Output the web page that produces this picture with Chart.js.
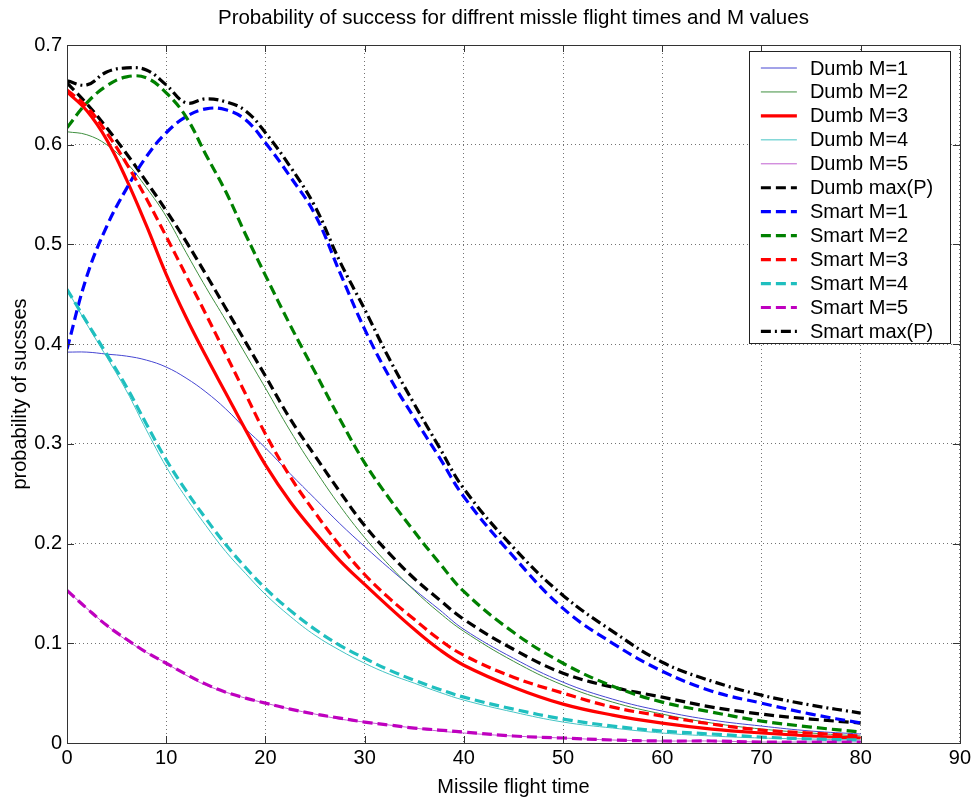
<!DOCTYPE html>
<html>
<head>
<meta charset="utf-8">
<script src="https://cdn.jsdelivr.net/npm/chart.js@4"></script>
<style>
  html, body { margin: 0; padding: 0; background: #fff; }
  #wrap { position: relative; width: 974px; height: 800px; }
</style>
</head>
<body>
<div id="wrap"><canvas id="chart"></canvas></div>
<script>
// missile flight time samples (shared by every series)
const flightTimes = [0, 2, 4, 6, 8, 10, 12, 14, 16, 18, 20, 22.5, 25, 27.5, 30, 32.5, 35, 37.5, 40, 45, 50, 55, 60, 65, 70, 75, 80]

// probability of success
const dumbM1 = [0.392, 0.392, 0.390, 0.388, 0.384, 0.377, 0.366, 0.352, 0.335, 0.315, 0.296, 0.270, 0.245, 0.220, 0.197, 0.175, 0.154, 0.134, 0.114, 0.085, 0.061, 0.044, 0.032, 0.023, 0.017, 0.012, 0.009]
const dumbM2 = [0.613, 0.610, 0.600, 0.582, 0.557, 0.528, 0.492, 0.457, 0.424, 0.390, 0.356, 0.313, 0.274, 0.238, 0.206, 0.178, 0.153, 0.131, 0.112, 0.082, 0.058, 0.041, 0.029, 0.020, 0.014, 0.010, 0.007]
const dumbM3 = [0.653, 0.634, 0.605, 0.565, 0.519, 0.470, 0.427, 0.388, 0.351, 0.314, 0.279, 0.242, 0.211, 0.183, 0.159, 0.136, 0.114, 0.094, 0.078, 0.056, 0.039, 0.028, 0.020, 0.014, 0.010, 0.007, 0.005]
const dumbM4 = [0.455, 0.420, 0.387, 0.353, 0.314, 0.277, 0.246, 0.218, 0.192, 0.170, 0.149, 0.127, 0.108, 0.093, 0.080, 0.069, 0.060, 0.051, 0.043, 0.031, 0.021, 0.015, 0.010, 0.007, 0.005, 0.004, 0.003]
const dumbM5 = [0.153, 0.135, 0.118, 0.103, 0.091, 0.080, 0.068, 0.058, 0.051, 0.045, 0.040, 0.034, 0.029, 0.024, 0.021, 0.018, 0.015, 0.012, 0.010, 0.007, 0.005, 0.003, 0.002, 0.002, 0.001, 0.001, 0.001]
const dumbMax = [0.662, 0.641, 0.617, 0.591, 0.563, 0.534, 0.503, 0.470, 0.436, 0.402, 0.368, 0.325, 0.288, 0.252, 0.218, 0.190, 0.165, 0.144, 0.124, 0.094, 0.070, 0.056, 0.046, 0.036, 0.029, 0.024, 0.020]
const smartM1 = [0.395, 0.468, 0.518, 0.556, 0.588, 0.612, 0.628, 0.636, 0.635, 0.625, 0.602, 0.568, 0.530, 0.472, 0.415, 0.367, 0.326, 0.287, 0.247, 0.187, 0.135, 0.100, 0.072, 0.052, 0.040, 0.029, 0.020]
const smartM2 = [0.617, 0.642, 0.659, 0.668, 0.667, 0.652, 0.628, 0.590, 0.553, 0.510, 0.469, 0.419, 0.372, 0.325, 0.281, 0.245, 0.212, 0.181, 0.152, 0.111, 0.080, 0.057, 0.041, 0.031, 0.022, 0.016, 0.011]
const smartM3 = [0.655, 0.638, 0.612, 0.581, 0.546, 0.508, 0.469, 0.430, 0.390, 0.350, 0.310, 0.267, 0.231, 0.198, 0.169, 0.145, 0.124, 0.104, 0.088, 0.066, 0.050, 0.036, 0.027, 0.019, 0.013, 0.010, 0.007]
const smartM4 = [0.455, 0.422, 0.390, 0.357, 0.320, 0.284, 0.253, 0.225, 0.199, 0.176, 0.155, 0.133, 0.114, 0.098, 0.085, 0.073, 0.063, 0.054, 0.046, 0.034, 0.024, 0.017, 0.012, 0.009, 0.006, 0.004, 0.003]
const smartM5 = [0.153, 0.135, 0.118, 0.104, 0.091, 0.080, 0.069, 0.059, 0.051, 0.045, 0.040, 0.034, 0.029, 0.025, 0.021, 0.018, 0.015, 0.013, 0.011, 0.007, 0.005, 0.003, 0.002, 0.002, 0.001, 0.001, 0.001]
const smartMax = [0.664, 0.660, 0.673, 0.677, 0.675, 0.660, 0.642, 0.646, 0.643, 0.634, 0.612, 0.578, 0.538, 0.483, 0.435, 0.385, 0.340, 0.297, 0.255, 0.196, 0.148, 0.112, 0.081, 0.062, 0.048, 0.038, 0.030]

const xTicks = [0, 10, 20, 30, 40, 50, 60, 70, 80, 90]
const yTicks = [0, 0.1, 0.2, 0.3, 0.4, 0.5, 0.6, 0.7]

const TITLE = 'Probability of success for diffrent missle flight times and M values'
const FONT = "'Liberation Sans', Arial, sans-serif"
const DASH = [10, 5]
const DASH_DOT = [10, 4, 2, 4]

const series = [
  { label: 'Dumb M=1', values: dumbM1, color: '#4646d2', width: 1, dash: [] },
  { label: 'Dumb M=2', values: dumbM2, color: '#3f8f3f', width: 1, dash: [] },
  { label: 'Dumb M=3', values: dumbM3, color: '#ff0000', width: 3.2, dash: [] },
  { label: 'Dumb M=4', values: dumbM4, color: '#45c4c4', width: 1, dash: [] },
  { label: 'Dumb M=5', values: dumbM5, color: '#c060d0', width: 1, dash: [] },
  { label: 'Dumb max(P)', values: dumbMax, color: '#000000', width: 3.2, dash: DASH },
  { label: 'Smart M=1', values: smartM1, color: '#0000ff', width: 3.2, dash: DASH },
  { label: 'Smart M=2', values: smartM2, color: '#008000', width: 3.2, dash: DASH },
  { label: 'Smart M=3', values: smartM3, color: '#ff0000', width: 3.2, dash: DASH },
  { label: 'Smart M=4', values: smartM4, color: '#1fbfbf', width: 3.2, dash: DASH },
  { label: 'Smart M=5', values: smartM5, color: '#bf00bf', width: 3.2, dash: DASH },
  { label: 'Smart max(P)', values: smartMax, color: '#000000', width: 3.2, dash: DASH_DOT }
]

const datasets = series.map((s, i) => ({
  label: s.label,
  data: s.values.map((v, j) => ({ x: flightTimes[j], y: v })),
  borderColor: s.color,
  backgroundColor: s.color,
  borderWidth: s.width,
  borderDash: s.dash,
  pointRadius: 0,
  fill: false,
  tension: 0.4,
  order: series.length - i // later series drawn on top, like matlab
}))

// box around the plot + inward ticks on all four sides, title centred over the axes
const frameTicks = {
  id: 'frameTicks',
  afterDatasetsDraw(chart) {
    const { ctx, chartArea: a, scales } = chart
    ctx.save()
    ctx.setLineDash([])
    ctx.strokeStyle = '#333'
    ctx.lineWidth = 1
    ctx.beginPath()
    xTicks.forEach(t => {
      const px = Math.round(scales.x.getPixelForValue(t)) + 0.5
      ctx.moveTo(px, a.bottom); ctx.lineTo(px, a.bottom - 7)
      ctx.moveTo(px, a.top); ctx.lineTo(px, a.top + 7)
    })
    yTicks.forEach(t => {
      const py = Math.round(scales.y.getPixelForValue(t)) + 0.5
      ctx.moveTo(a.left, py); ctx.lineTo(a.left + 7, py)
      ctx.moveTo(a.right, py); ctx.lineTo(a.right - 7, py)
    })
    ctx.stroke()
    ctx.strokeRect(Math.round(a.left) + 0.5, Math.round(a.top) + 0.5, Math.round(a.right - a.left), Math.round(a.bottom - a.top))

    ctx.fillStyle = '#000'
    ctx.font = '20.5px ' + FONT
    ctx.textAlign = 'center'
    ctx.textBaseline = 'middle'
    ctx.fillText(TITLE, (a.left + a.right) / 2, 18)
    ctx.restore()
  }
}

// matlab style legend box in the top right corner
const boxLegend = {
  id: 'boxLegend',
  afterDraw(chart) {
    const { ctx, chartArea: a } = chart
    const rowH = 23.95
    const w = 201
    const h = 292
    const left = a.right - 10 - w
    const top = a.top + 6
    ctx.save()
    ctx.setLineDash([])
    ctx.fillStyle = '#fff'
    ctx.fillRect(left, top, w, h)
    ctx.strokeStyle = '#222'
    ctx.lineWidth = 1
    ctx.strokeRect(Math.round(left) + 0.5, Math.round(top) + 0.5, w, h)
    ctx.font = '20px ' + FONT
    ctx.textBaseline = 'middle'
    chart.data.datasets.forEach((ds, i) => {
      const y = top + 17 + i * rowH
      ctx.beginPath()
      ctx.setLineDash(ds.borderDash)
      ctx.strokeStyle = ds.borderColor
      ctx.lineWidth = ds.borderWidth
      ctx.moveTo(left + 12, y)
      ctx.lineTo(left + 48, y)
      ctx.stroke()
      ctx.setLineDash([])
      ctx.fillStyle = '#000'
      ctx.fillText(ds.label, left + 61, y + 1)
    })
    ctx.restore()
  }
}

new Chart(document.getElementById('chart'), {
  type: 'line',
  data: { datasets },
  options: {
    responsive: true,
    maintainAspectRatio: false,
    animation: false,
    layout: { padding: { left: 0, right: 14, top: 45, bottom: 0 } },
    plugins: {
      legend: { display: false },
      tooltip: { enabled: false },
      title: { display: false }
    },
    scales: {
      x: {
        type: 'linear',
        min: 0,
        max: 90,
        afterBuildTicks: scale => { scale.ticks = xTicks.map(v => ({ value: v })) },
        afterFit: scale => { scale.height = 57 },
        ticks: { color: '#000', font: { family: FONT, size: 20 }, padding: 3 },
        grid: { color: 'rgba(0,0,0,0.55)', drawTicks: false },
        border: { display: false, dash: [1, 3] },
        title: {
          display: true,
          text: 'Missile flight time',
          color: '#000',
          font: { family: FONT, size: 20 },
          padding: { top: 0, bottom: 1 }
        }
      },
      y: {
        min: 0,
        max: 0.7,
        afterBuildTicks: scale => { scale.ticks = yTicks.map(v => ({ value: v })) },
        afterFit: scale => { scale.width = 67 },
        ticks: { color: '#000', font: { family: FONT, size: 20 }, padding: 5 },
        grid: { color: 'rgba(0,0,0,0.55)', drawTicks: false },
        border: { display: false, dash: [1, 3] },
        title: {
          display: true,
          text: 'probability of sucsses',
          color: '#000',
          font: { family: FONT, size: 20 },
          padding: { top: 8, bottom: 0 }
        }
      }
    }
  },
  plugins: [frameTicks, boxLegend]
})
</script>
</body>
</html>
